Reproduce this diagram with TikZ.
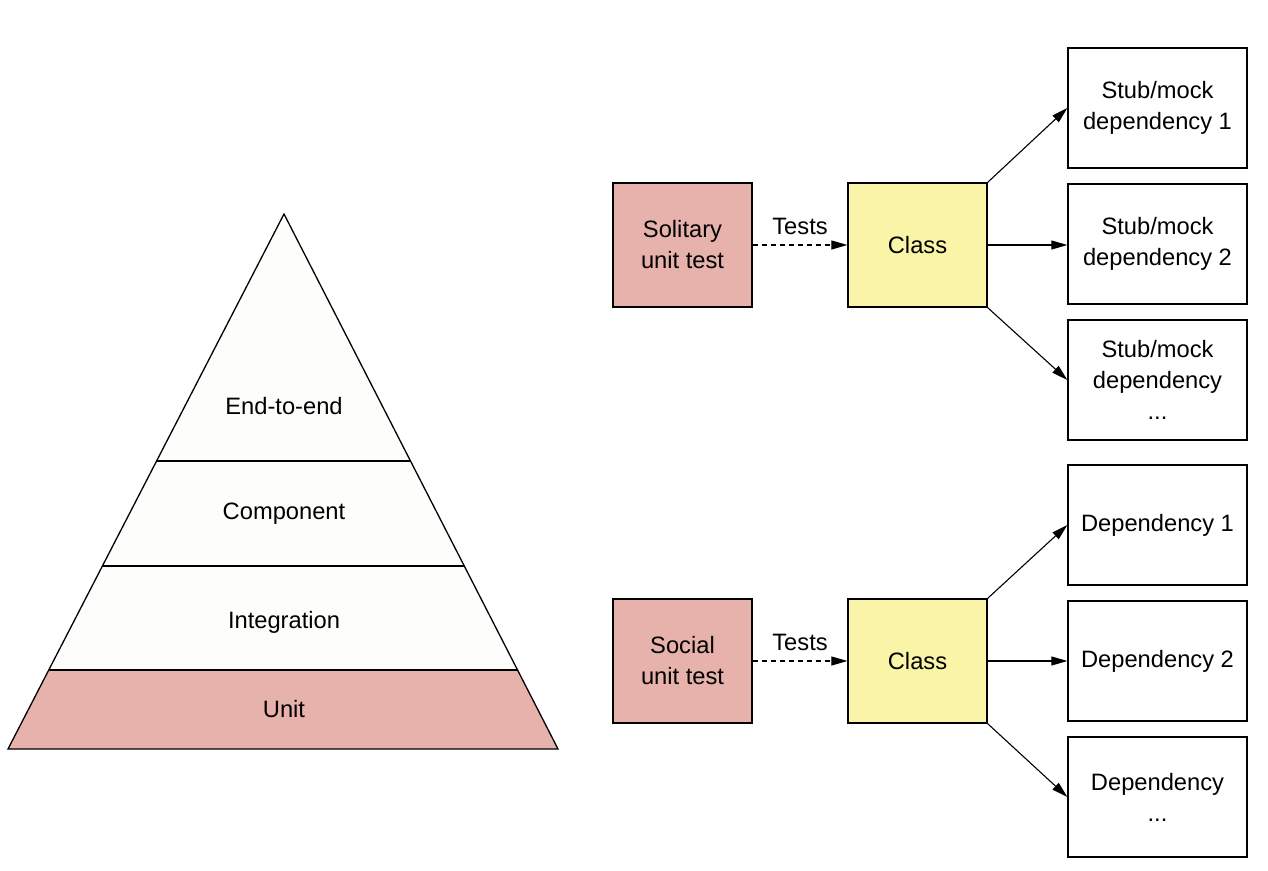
\documentclass[tikz,border=0pt]{standalone}
\usepackage{fontspec}
\setmainfont{Liberation Sans}
\usetikzlibrary{arrows.meta}
\definecolor{pinkfill}{HTML}{E7B1AC}
\definecolor{yellowfill}{HTML}{FAF4A8}
\definecolor{offwhite}{HTML}{FDFDFB}
\begin{document}
\begin{tikzpicture}[x=1pt,y=-1pt,
  every node/.style={font=\fontsize{23.7}{31}\selectfont, align=center},
  box/.style={draw, line width=1.3pt, inner sep=0pt, minimum width=139pt, minimum height=124pt},
  depbox/.style={draw, line width=1.3pt, inner sep=0pt, minimum width=179pt, minimum height=120pt},
  testbox/.style={box, fill=pinkfill},
  classbox/.style={box, fill=yellowfill},
  arr/.style={line width=1.1pt, -{Triangle[length=16pt,width=9pt]}},
  dasharr/.style={arr, dashed, dash pattern=on 5pt off 4pt},
  layer/.style={line width=1.3pt}
]
\useasboundingbox (0,0) rectangle (1268,870);
% pyramid
\coordinate (apex) at (284,214);
\coordinate (bl) at (8,749);
\coordinate (br) at (558,749);
\fill[offwhite] (apex) -- (bl) -- (br) -- cycle;
\fill[pinkfill] (49,670) -- (518,670) -- (br) -- (bl) -- cycle;
\draw[layer, line join=miter] (apex) -- (bl) -- (br) -- cycle;
\draw[layer] (157,461) -- (411,461);
\draw[layer] (103,566) -- (465,566);
\draw[layer] (49,670) -- (518,670);
\node (e2e) at (284,406) {End-to-end};
\node (comp) at (284,514) {Component};
\node (integ) at (284,622) {Integration};
\node (unit) at (284,709) {Unit};

% solitary
\node[testbox] (sol) at (682.5,245) {Solitary\\unit test};
\node[classbox] (cls1) at (917.5,245) {Class};
\node[depbox] (s1) at (1157.5,108) {Stub/mock\\dependency 1};
\node[depbox] (s2) at (1157.5,244) {Stub/mock\\dependency 2};
\node[depbox] (s3) at (1157.5,380) {Stub/mock\\dependency\\...};
\draw[dasharr] (sol.east) -- node[above=8pt, inner sep=2pt] (t1) {Tests} (cls1.west);
\draw[arr] (cls1.north east) -- (s1.west);
\draw[arr] (cls1.east) -- (cls1.east -| s2.west);
\draw[arr] (cls1.south east) -- (s3.west);

% social
\node[testbox] (soc) at (682.5,661) {Social\\unit test};
\node[classbox] (cls2) at (917.5,661) {Class};
\node[depbox] (d1) at (1157.5,525) {Dependency 1};
\node[depbox] (d2) at (1157.5,661) {Dependency 2};
\node[depbox] (d3) at (1157.5,797) {Dependency\\...};
\draw[dasharr] (soc.east) -- node[above=8pt, inner sep=2pt] (t2) {Tests} (cls2.west);
\draw[arr] (cls2.north east) -- (d1.west);
\draw[arr] (cls2.east) -- (d2.west);
\draw[arr] (cls2.south east) -- (d3.west);
\end{tikzpicture}
\end{document}
